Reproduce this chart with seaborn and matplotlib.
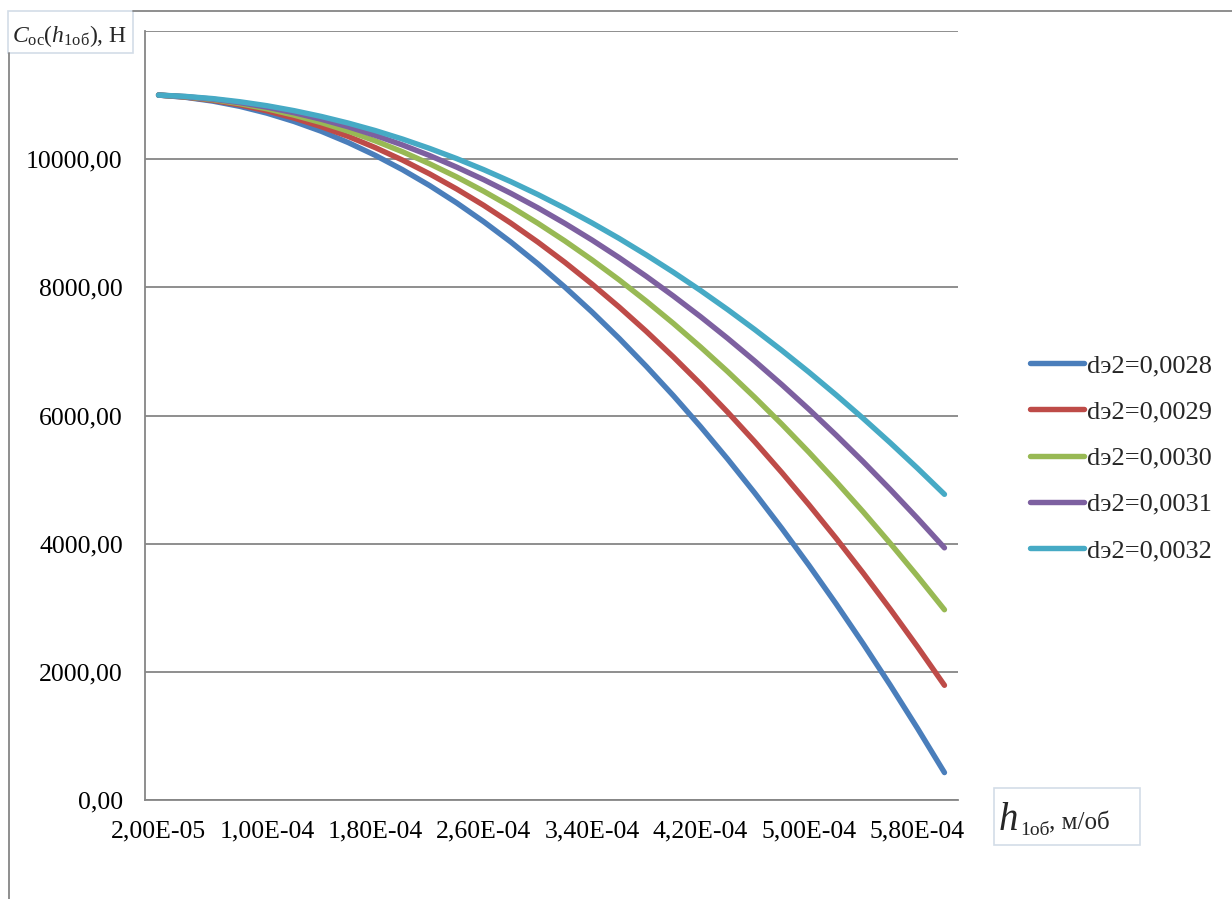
import numpy as np
import pandas as pd
import matplotlib
matplotlib.use("Agg")
import matplotlib.pyplot as plt
import seaborn as sns
from matplotlib.patches import Rectangle
from matplotlib.lines import Line2D

# ---------------- data ----------------
h_values = [2e-05, 4e-05, 6e-05, 8e-05, 1.0e-04, 1.2e-04, 1.4e-04, 1.6e-04, 1.8e-04, 2.0e-04,
            2.2e-04, 2.4e-04, 2.6e-04, 2.8e-04, 3.0e-04, 3.2e-04, 3.4e-04, 3.6e-04, 3.8e-04, 4.0e-04,
            4.2e-04, 4.4e-04, 4.6e-04, 4.8e-04, 5.0e-04, 5.2e-04, 5.4e-04, 5.6e-04, 5.8e-04, 6.0e-04]

series_names = ["dэ2=0,0028", "dэ2=0,0029", "dэ2=0,0030", "dэ2=0,0031", "dэ2=0,0032"]

c_0028 = [11000, 10965, 10906, 10824, 10718, 10588, 10436, 10259, 10059, 9836,
          9589, 9318, 9024, 8707, 8366, 8001, 7613, 7202, 6766, 6308,
          5826, 5320, 4791, 4238, 3662, 3062, 2439, 1792, 1122, 428]
c_0029 = [11000, 10969, 10918, 10846, 10754, 10641, 10508, 10355, 10180, 9986,
          9771, 9535, 9279, 9002, 8705, 8388, 8049, 7691, 7312, 6912,
          6492, 6052, 5591, 5109, 4607, 4085, 3542, 2978, 2394, 1790]
c_0030 = [11000, 10973, 10929, 10866, 10786, 10687, 10571, 10437, 10285, 10116,
          9928, 9723, 9499, 9258, 8999, 8722, 8427, 8115, 7784, 7436,
          7069, 6685, 6283, 5864, 5426, 4970, 4497, 4005, 3496, 2969]
c_0031 = [11000, 10976, 10937, 10882, 10811, 10725, 10623, 10505, 10371, 10222,
          10057, 9876, 9680, 9467, 9240, 8996, 8737, 8462, 8171, 7864,
          7542, 7204, 6850, 6481, 6096, 5695, 5279, 4846, 4398, 3935]
c_0032 = [11000, 10979, 10945, 10896, 10834, 10757, 10667, 10563, 10446, 10314,
          10168, 10009, 9836, 9649, 9448, 9233, 9004, 8762, 8505, 8235,
          7951, 7653, 7341, 7015, 6676, 6322, 5955, 5574, 5179, 4770]

y_ticks = [0, 2000, 4000, 6000, 8000, 10000, 12000]

colors = ["#4A7EBB", "#BE4B48", "#98B954", "#7D60A0", "#46AAC5"]

# ---------------- build frame ----------------
h_labels = [f"{v:.2E}".replace(".", ",") for v in h_values]
all_vals = [c_0028, c_0029, c_0030, c_0031, c_0032]
rows = []
for name, vals in zip(series_names, all_vals):
    for lab, v in zip(h_labels, vals):
        rows.append({"h": lab, "C": v, "series": name})
df = pd.DataFrame(rows)

sns.set_style("white")
plt.rcParams["font.family"] = ["Liberation Serif", "DejaVu Serif"]
plt.rcParams["mathtext.fontset"] = "custom"
plt.rcParams["mathtext.rm"] = "Liberation Serif"
plt.rcParams["mathtext.it"] = "Liberation Serif:italic"

W, H = 1232, 899
fig = plt.figure(figsize=(W / 100, H / 100), dpi=100)
fig.patch.set_facecolor("white")

def fx(x):
    return x / W

def fy(y):
    return 1 - y / H

ax_l, ax_r, ax_t, ax_b = 145, 958, 31, 800
ax = fig.add_axes([fx(ax_l), fy(ax_b), (ax_r - ax_l) / W, (ax_b - ax_t) / H])

LW = 3.9
sns.lineplot(data=df, x="h", y="C", hue="series", palette=colors, hue_order=series_names,
             linewidth=LW, sort=False, legend=False, ax=ax, solid_capstyle="round")

grey = "#868686"
ax.set_xlim(-0.5, len(h_values) - 0.5)
ax.set_ylim(0, 12000)
ax.set_yticks(y_ticks)
ax.set_yticklabels([f"{t:.2f}".replace(".", ",") if t < 12000 else "" for t in y_ticks])
ax.set_xticks(range(0, len(h_values), 4))
ax.set_xticklabels(h_labels[::4])
ax.set_xticks(np.arange(-0.5, len(h_values), 1), minor=True)
ax.tick_params(axis="x", which="major", length=0, pad=15, labelsize=18.5, colors="black")
ax.tick_params(axis="x", which="minor", length=7, width=1.3, color=grey, direction="out")
ax.tick_params(axis="y", which="major", length=8, width=1.3, color=grey, direction="out",
               pad=8, labelsize=18.5, labelcolor="black")
ax.yaxis.grid(True, color=grey, linewidth=1.3)
ax.xaxis.grid(False)
for s in ["top", "right"]:
    ax.spines[s].set_visible(False)
for s in ["left", "bottom"]:
    ax.spines[s].set_color(grey)
    ax.spines[s].set_linewidth(1.3)
ax.set_xlabel("")
ax.set_ylabel("")

# legend
handles = [Line2D([0], [0], color=c, linewidth=LW, solid_capstyle="round") for c in colors]
fig.legend(handles, series_names, loc="center left", bbox_to_anchor=(fx(1030), fy(458)),
           frameon=False, fontsize=19, handlelength=2.05, handletextpad=0.12,
           labelspacing=0.86, borderpad=0, borderaxespad=0)

# outer chart frame (only top & left visible)
fig.add_artist(Line2D([fx(8.5), fx(8.5)], [fy(53), fy(899)], color=grey, linewidth=1.3))
fig.add_artist(Line2D([fx(133), fx(1232)], [fy(10.5), fy(10.5)], color=grey, linewidth=1.3))

# y-axis title box
box_c = "#D3DDE8"
fig.add_artist(Rectangle((fx(8), fy(53)), fx(133) - fx(8), fy(11) - fy(53),
                         facecolor="white", edgecolor=box_c, linewidth=1.2))
fig.text(fx(12), fy(42), r"$C_{\mathrm{oc}}(h_{\mathrm{1об}})$, H", fontsize=17,
         ha="left", va="baseline")

# x-axis title box
fig.add_artist(Rectangle((fx(994), fy(845)), fx(1140) - fx(994), fy(788) - fy(845),
                         facecolor="white", edgecolor=box_c, linewidth=1.2))
fig.text(fx(999), fy(830), "h", fontsize=28, style="italic", ha="left", va="baseline")
fig.text(fx(1020), fy(835), "1об", fontsize=14, ha="left", va="baseline")
fig.text(fx(1049), fy(829), ", м/об", fontsize=18, ha="left", va="baseline")

fig.savefig("out.png", dpi=100)
